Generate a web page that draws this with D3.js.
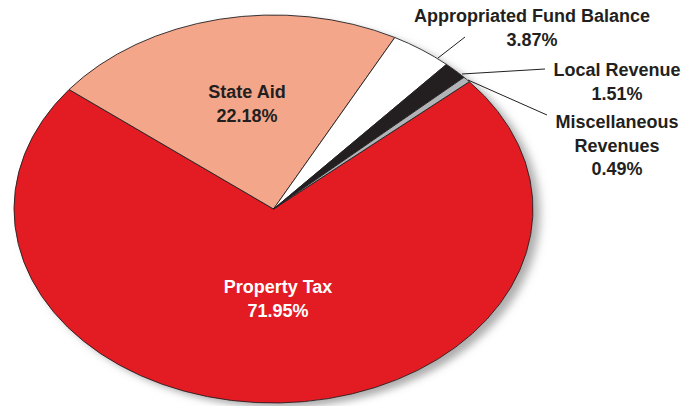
<!DOCTYPE html>
<html>
<head>
<meta charset="utf-8">
<style>
  body { margin: 0; background: #fff; }
  text { font-family: "Liberation Sans", Arial, sans-serif; font-weight: bold; font-size: 18px; }
</style>
</head>
<body>
<svg width="699" height="406" viewBox="0 0 699 406"></svg>
<script src="https://cdn.jsdelivr.net/npm/d3@7"></script>
<script>
// slices, in drawing order (clockwise from Property Tax)
const names = ['Property Tax', 'State Aid', 'Appropriated Fund Balance', 'Local Revenue', 'Miscellaneous Revenues'];
const values = [71.95, 22.18, 3.87, 1.51, 0.49];
const colors = ['#e31b23', '#f4a68b', '#ffffff', '#231f20', '#b1b3b6'];

const svg = d3.select('svg');
const cx = 273.5, cy = 209;
const rx = 259.5, ry = 194;

const defs = svg.append('defs');
const f = defs.append('filter').attr('id', 'shadow')
  .attr('x', '-10%').attr('y', '-10%').attr('width', '130%').attr('height', '130%');
f.append('feDropShadow')
  .attr('dx', 7).attr('dy', 6).attr('stdDeviation', 5)
  .attr('flood-color', '#777').attr('flood-opacity', 0.6);

const pie = d3.pie().sort(null)
  .startAngle(49 * Math.PI / 180)
  .endAngle(49 * Math.PI / 180 + 2 * Math.PI);
const arc = d3.arc().innerRadius(0).outerRadius(rx);

const g = svg.append('g')
  .attr('transform', `translate(${cx},${cy}) scale(1,${ry / rx})`);

// shadow under the pie
g.append('circle').attr('r', rx).attr('fill', '#fff').attr('filter', 'url(#shadow)');

g.selectAll('path.slice')
  .data(pie(values))
  .join('path')
  .attr('class', 'slice')
  .attr('d', arc)
  .attr('fill', (d, i) => colors[i])
  .attr('stroke', '#231f20')
  .attr('stroke-width', 0.9)
  .attr('stroke-linejoin', 'round')
  .attr('vector-effect', 'non-scaling-stroke');

// leader lines
const leaders = [
  [[438, 58], [465, 37]],
  [[462, 74], [545, 69]],
  [[468, 80], [547, 115]]
];
svg.selectAll('line.lead').data(leaders).join('line')
  .attr('class', 'lead')
  .attr('x1', d => d[0][0]).attr('y1', d => d[0][1])
  .attr('x2', d => d[1][0]).attr('y2', d => d[1][1])
  .attr('stroke', '#231f20').attr('stroke-width', 1);

// labels
const fmt = v => v.toFixed(2) + '%';
const labels = [
  { x: 278, y: 293, lines: ['Property Tax', fmt(values[0])], fill: '#fff' },
  { x: 247, y: 98, lines: ['State Aid', fmt(values[1])], fill: '#231f20' },
  { x: 532, y: 22, lines: ['Appropriated Fund Balance', fmt(values[2])], fill: '#231f20' },
  { x: 617, y: 76, lines: ['Local Revenue', fmt(values[3])], fill: '#231f20' },
  { x: 617, y: 128, lines: ['Miscellaneous', 'Revenues', fmt(values[4])], fill: '#231f20' }
];
const t = svg.selectAll('text.lab').data(labels).join('text')
  .attr('class', 'lab')
  .attr('text-anchor', 'middle')
  .attr('fill', d => d.fill);
t.selectAll('tspan').data(d => d.lines.map((s, i) => ({ s, i, d }))).join('tspan')
  .attr('x', o => o.d.x)
  .attr('y', o => o.d.y + o.i * 23.5)
  .text(o => o.s);
</script>
</body>
</html>
